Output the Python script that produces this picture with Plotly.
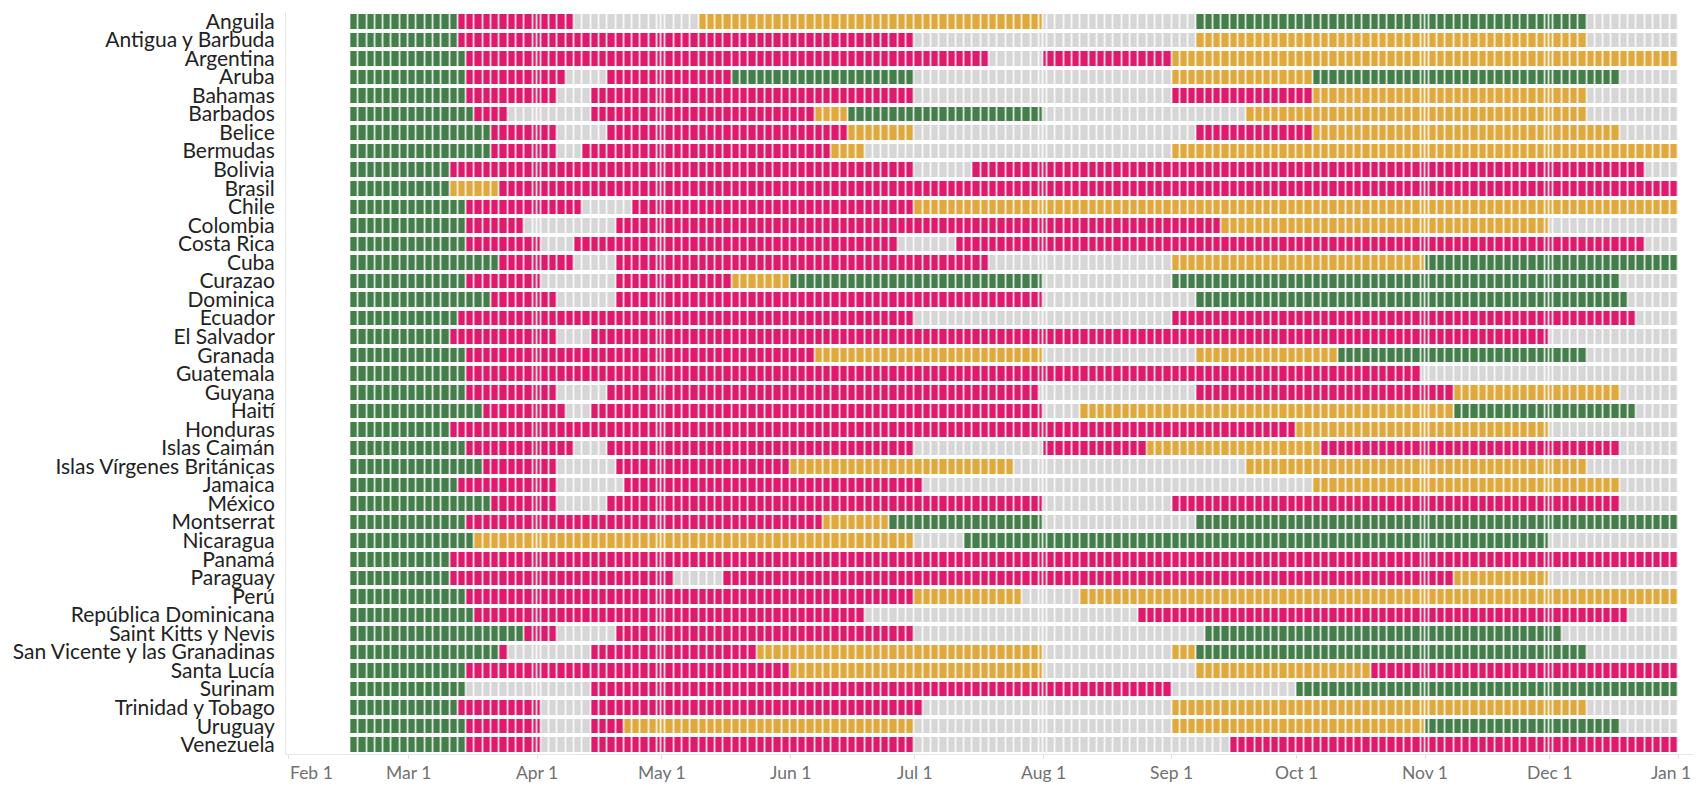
import numpy as np
import pandas as pd
import plotly.graph_objects as go

# status codes: N = sin datos (gris), G = verde, R = rojo, Y = amarillo
countries = [
    "Anguila", "Antigua y Barbuda", "Argentina", "Aruba", "Bahamas", "Barbados",
    "Belice", "Bermudas", "Bolivia", "Brasil", "Chile", "Colombia", "Costa Rica",
    "Cuba", "Curazao", "Dominica", "Ecuador", "El Salvador", "Granada", "Guatemala",
    "Guyana", "Haití", "Honduras", "Islas Caimán", "Islas Vírgenes Británicas",
    "Jamaica", "México", "Montserrat", "Nicaragua", "Panamá", "Paraguay", "Perú",
    "República Dominicana", "Saint Kitts y Nevis", "San Vicente y las Granadinas",
    "Santa Lucía", "Surinam", "Trinidad y Tobago", "Uruguay", "Venezuela",
]

# each timeline: (first day of the state, state); runs until the next entry
timelines = [
    [("02-16", "G"), ("03-13", "R"), ("04-10", "N"), ("05-11", "Y"), ("08-01", "N"), ("09-07", "G"), ("12-11", "N")],
    [("02-16", "G"), ("03-13", "R"), ("07-01", "N"), ("09-07", "Y"), ("12-11", "N")],
    [("02-16", "G"), ("03-16", "R"), ("07-19", "N"), ("08-01", "R"), ("09-01", "Y")],
    [("02-16", "G"), ("03-16", "R"), ("04-09", "N"), ("04-18", "R"), ("05-18", "G"), ("07-01", "N"), ("09-01", "Y"), ("10-05", "G"), ("12-18", "N")],
    [("02-16", "G"), ("03-16", "R"), ("04-06", "N"), ("04-14", "R"), ("07-01", "N"), ("09-01", "R"), ("10-05", "Y"), ("12-11", "N")],
    [("02-16", "G"), ("03-18", "R"), ("03-26", "N"), ("04-14", "R"), ("06-08", "Y"), ("06-15", "G"), ("08-01", "N"), ("09-20", "Y"), ("12-11", "N")],
    [("02-16", "G"), ("03-22", "R"), ("04-06", "N"), ("04-18", "R"), ("06-15", "Y"), ("07-01", "N"), ("09-07", "R"), ("10-05", "Y"), ("12-18", "N")],
    [("02-16", "G"), ("03-22", "R"), ("04-06", "N"), ("04-12", "R"), ("06-11", "Y"), ("06-19", "N"), ("09-01", "Y")],
    [("02-16", "G"), ("03-12", "R"), ("07-01", "N"), ("07-16", "R"), ("12-24", "N")],
    [("02-16", "G"), ("03-12", "Y"), ("03-24", "R")],
    [("02-16", "G"), ("03-15", "R"), ("04-12", "N"), ("04-25", "R"), ("07-01", "Y")],
    [("02-16", "G"), ("03-16", "R"), ("03-29", "N"), ("04-20", "R"), ("09-14", "Y"), ("12-01", "N")],
    [("02-16", "G"), ("03-16", "R"), ("04-03", "N"), ("04-11", "R"), ("06-28", "N"), ("07-12", "R"), ("12-24", "N")],
    [("02-16", "G"), ("03-23", "R"), ("04-10", "N"), ("04-21", "R"), ("07-19", "N"), ("09-01", "Y"), ("11-01", "G")],
    [("02-16", "G"), ("03-16", "R"), ("04-02", "N"), ("04-21", "R"), ("05-18", "Y"), ("06-01", "G"), ("08-01", "N"), ("09-01", "G"), ("12-18", "N")],
    [("02-16", "G"), ("03-22", "R"), ("04-06", "N"), ("04-21", "R"), ("08-01", "N"), ("09-07", "G"), ("12-21", "N")],
    [("02-16", "G"), ("03-13", "R"), ("07-01", "N"), ("09-01", "R"), ("12-23", "N")],
    [("02-16", "G"), ("03-11", "R"), ("04-06", "N"), ("04-14", "R"), ("12-01", "N")],
    [("02-16", "G"), ("03-16", "R"), ("06-08", "Y"), ("08-01", "N"), ("09-07", "Y"), ("10-12", "G"), ("12-11", "N")],
    [("02-16", "G"), ("03-16", "R"), ("10-31", "N")],
    [("02-16", "G"), ("03-16", "R"), ("04-06", "N"), ("04-18", "R"), ("07-31", "N"), ("09-07", "R"), ("11-08", "Y"), ("12-18", "N")],
    [("02-16", "G"), ("03-19", "R"), ("04-08", "N"), ("04-14", "R"), ("08-01", "N"), ("08-10", "Y"), ("11-08", "G"), ("12-23", "N")],
    [("02-16", "G"), ("03-12", "R"), ("10-01", "Y"), ("12-01", "N")],
    [("02-16", "G"), ("03-16", "R"), ("04-10", "N"), ("04-18", "R"), ("07-01", "N"), ("08-01", "R"), ("08-26", "Y"), ("10-07", "R"), ("12-18", "N")],
    [("02-16", "G"), ("03-19", "R"), ("04-06", "N"), ("04-20", "R"), ("06-02", "Y"), ("07-25", "N"), ("09-20", "Y"), ("12-11", "N")],
    [("02-16", "G"), ("03-13", "R"), ("04-06", "N"), ("04-22", "R"), ("07-03", "N"), ("10-05", "Y"), ("12-18", "N")],
    [("02-16", "G"), ("03-22", "R"), ("04-06", "N"), ("04-18", "R"), ("08-01", "N"), ("09-01", "R"), ("12-19", "N")],
    [("02-16", "G"), ("03-16", "R"), ("06-09", "Y"), ("06-26", "G"), ("08-01", "N"), ("09-07", "G")],
    [("02-16", "G"), ("03-17", "Y"), ("07-01", "N"), ("07-13", "G"), ("12-01", "N")],
    [("02-16", "G"), ("03-12", "R")],
    [("02-16", "G"), ("03-11", "R"), ("05-04", "N"), ("05-16", "R"), ("11-08", "Y"), ("12-01", "N")],
    [("02-16", "G"), ("03-16", "R"), ("07-01", "Y"), ("07-27", "N"), ("08-11", "Y")],
    [("02-16", "G"), ("03-18", "R"), ("06-19", "N"), ("08-24", "R"), ("12-20", "N")],
    [("02-16", "G"), ("03-30", "R"), ("04-06", "N"), ("04-21", "R"), ("07-01", "N"), ("09-09", "G"), ("12-04", "N")],
    [("02-16", "G"), ("03-23", "R"), ("03-26", "N"), ("04-14", "R"), ("05-25", "Y"), ("08-01", "N"), ("09-01", "Y"), ("09-07", "G"), ("12-11", "N")],
    [("02-16", "G"), ("03-16", "R"), ("06-01", "Y"), ("08-01", "N"), ("09-07", "Y"), ("10-19", "R")],
    [("02-16", "G"), ("03-15", "N"), ("04-14", "R"), ("09-01", "N"), ("10-01", "G")],
    [("02-16", "G"), ("03-13", "R"), ("04-02", "N"), ("04-14", "R"), ("07-03", "N"), ("09-01", "Y"), ("12-11", "N")],
    [("02-16", "G"), ("03-15", "R"), ("04-02", "N"), ("04-14", "R"), ("04-22", "Y"), ("07-01", "N"), ("09-01", "Y"), ("11-01", "G"), ("12-18", "N")],
    [("02-16", "G"), ("03-15", "R"), ("04-02", "N"), ("04-14", "R"), ("07-01", "N"), ("09-16", "R")],
]

state_code = {"N": 0, "G": 1, "R": 2, "Y": 3}
state_colors = ["#d6d6d6", "#447e4a", "#dd1a6b", "#e0a93d"]

# marks are two days wide (Feb 16 -> Jan 1), with a short one at month starts
grid = pd.date_range("2020-02-16", "2021-01-01", freq="2D")
month_starts = pd.date_range("2020-03-01", "2020-12-01", freq="MS")
edges = grid.union(month_starts).sort_values()
mids = edges[:-1] + (edges[1:] - edges[:-1]) / 2

z = []
for segs in timelines:
    starts = pd.to_datetime(["2020-" + d for d, _ in segs]).values
    codes = np.array([state_code[s] for _, s in segs])
    idx = np.searchsorted(starts, mids.values, side="right") - 1
    z.append(codes[idx])

colorscale = []
for i, c in enumerate(state_colors):
    colorscale += [[i / 4, c], [(i + 1) / 4, c]]

fig = go.Figure(go.Heatmap(
    x=edges,
    y=countries,
    z=z,
    zmin=-0.5, zmax=3.5,
    colorscale=colorscale,
    showscale=False,
    xgap=1.5, ygap=4,
    hoverinfo="skip",
))

month_ticks = pd.date_range("2020-02-01", "2021-01-01", freq="MS")
tick_text = [d.strftime("%b ") + str(d.day) for d in month_ticks]
tick_font = dict(size=17.5, color="#707070")

# the page body keeps an 8px margin on every side, so the figure is sized to
# fit inside the window without scrollbars
fig.update_layout(
    width=1685, height=774,
    plot_bgcolor="white",
    paper_bgcolor="white",
    font=dict(family="Lato, 'Noto Sans', sans-serif"),
    margin=dict(l=278, r=0, t=4, b=28),
)
# month labels drawn as annotations so they fit under the axis;
# first and last ones are pushed inside the axis, as in the original
for i, (d, label) in enumerate(zip(month_ticks, tick_text)):
    if i == 0:
        pos = dict(x=d, xref="x", xanchor="left")
    elif i == len(month_ticks) - 1:
        pos = dict(x=1, xref="paper", xanchor="right")
    else:
        pos = dict(x=d, xref="x", xanchor="center")
    fig.add_annotation(
        **pos, y=0, yref="paper", yanchor="top", yshift=-6,
        showarrow=False, text=label, font=tick_font,
    )
fig.update_xaxes(
    type="date",
    automargin=False,
    range=["2020-01-31 12:00", "2021-01-04 14:00"],
    tickmode="array", tickvals=month_ticks,
    showticklabels=False,
    ticks="outside", ticklen=4, tickcolor="#e0e0e0",
    showline=True, linecolor="#e6e6e6",
    showgrid=False, zeroline=False,
)
fig.update_yaxes(
    automargin=False,
    autorange="reversed",
    tickmode="array", tickvals=countries,
    showline=True, linecolor="#e6e6e6",
    showgrid=False, ticks="",
    ticklabelstandoff=6,
    tickfont=dict(size=21, color="#222222"),
)

fig.write_html("out.html")
